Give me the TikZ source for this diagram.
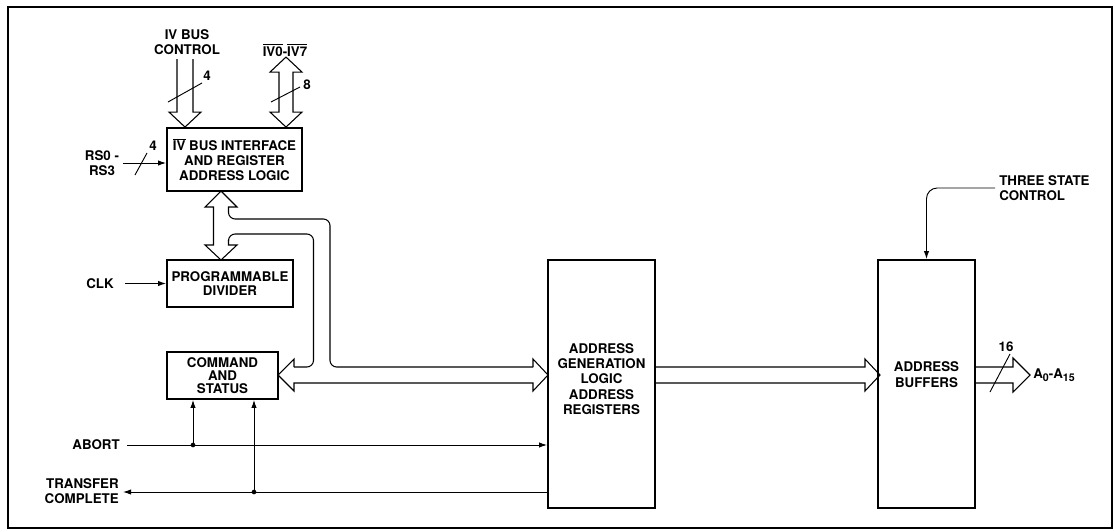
\documentclass[tikz,border=0pt]{standalone}
\usepackage{fontspec}
\setmainfont{TeX Gyre Heros}
\usetikzlibrary{arrows.meta,calc}
\newcommand\ovl[1]{$\overline{\hbox{#1}}$}
\newcommand\lblfont{\fontsize{10pt}{11pt}\selectfont\bfseries}
\newcommand\sbs[1]{\raisebox{-2.2pt}{\fontsize{8pt}{8pt}\selectfont #1}}
\tikzset{
  box/.style={draw,line width=1.4pt,inner sep=0pt,align=center,font=\lblfont},
  lbl/.style={font=\lblfont,inner sep=0pt,align=center},
  bus/.style={line width=0.8pt,line join=miter},
  sig/.style={line width=0.7pt,-{Latex[length=6pt,width=4pt]}},
  dotnode/.style={circle,fill,inner sep=0pt,minimum size=3.5pt},
  slash/.style={line width=0.7pt}
}
\begin{document}
\begin{tikzpicture}[x=0.75pt,y=-0.75pt]
\useasboundingbox (0,0) rectangle (1115,532);
\draw[line width=1.5pt] (8,7) rectangle (1112,528);

% blocks
\node[box,minimum width=101.25pt,minimum height=47.25pt] (ivbox) at (234.5,159.5) {\ovl{IV} BUS INTERFACE\\AND REGISTER\\ADDRESS LOGIC};
\node[box,minimum width=94.5pt,minimum height=35.25pt] (div) at (230,283.5) {PROGRAMMABLE\\DIVIDER};
\node[box,minimum width=83.25pt,minimum height=35.25pt,font=\fontsize{10pt}{9.8pt}\selectfont\bfseries] (cmd) at (222.5,375.5) {COMMAND\\AND\\STATUS};
\node[box,minimum width=80.25pt,minimum height=186pt] (agen) at (601.5,384) {};
\node[lbl,font=\fontsize{10pt}{11.5pt}\selectfont\bfseries] (agent) at (601.5,379) {ADDRESS\\GENERATION\\LOGIC\\ADDRESS\\REGISTERS};
\node[box,minimum width=72.75pt,minimum height=186pt] (buf) at (926.5,384) {};
\node[lbl,font=\fontsize{10pt}{12pt}\selectfont\bfseries] (buft) at (926.5,375) {ADDRESS\\BUFFERS};

% labels
\node[lbl] (ivctl) at (187,42) {IV BUS\\CONTROL};
\node[lbl] (ivd) at (285,50) {\ovl{IV0}-\ovl{IV7}};
\node[lbl] (rs) at (102,163) {RS0 -\\RS3};
\node[lbl,anchor=east] (clk) at (114,284) {CLK};
\node[lbl,anchor=east] (abort) at (120,445) {ABORT};
\node[lbl,anchor=east,align=right] (tc) at (119,491) {TRANSFER\\COMPLETE};
\node[lbl,anchor=west,align=left] (tsc) at (999,188) {THREE STATE\\CONTROL};
\node[lbl,anchor=west] (aout) at (1033,375) {A\sbs{0}-A\sbs{15}};
\node[lbl] (n4a) at (207,76) {4};
\node[lbl] (n8) at (307,85) {8};
\node[lbl] (n4b) at (153,146) {4};
\node[lbl] (n16) at (1006,347) {16};

% IV bus control (in)
\coordinate (c1) at ($(ivbox.north)+(-49.5,0)$);
\draw[bus,shift={(c1)}] (-8,-68) -- (-8,-15) -- (-16,-15) -- (0,0) -- (16,-15) -- (8,-15) -- (8,-68);
\draw[slash] (168,102) -- (202,83);
% IV0-IV7 (bidirectional)
\coordinate (c2) at ($(ivbox.north)+(51.5,0)$);
\draw[bus,shift={(c2)}] (0,0) -- (16,-15) -- (7,-15) -- (7,-55) -- (16,-55) -- (0,-70) -- (-16,-55) -- (-7,-55) -- (-7,-15) -- (-16,-15) -- cycle;
\draw[slash] (271,102) -- (300,87);

% internal bus tree
\draw[bus] (228.5,211) -- (228.5,207) -- (237,207) -- (221,191) -- (205,207) -- (213.5,207) -- (213.5,245) -- (205,245) -- (221,260) -- (237,245) -- (228.5,245) -- (228.5,240);
\draw[bus,rounded corners=5] (228.5,240) -- (228.5,234) -- (313.5,234) -- (313.5,367) -- (294,367);
\draw[bus] (294,367) -- (294,359) -- (278,375) -- (294,391) -- (294,383) -- (533,383) -- (533,391) -- (548,375) -- (533,359) -- (533,367);
\draw[bus,rounded corners=5] (533,367) -- (330,367) -- (330,219) -- (228.5,219) -- (228.5,211);

% address gen -> buffers
\draw[bus] (agen.east |- 0,367) -- (865,367) -- (865,359) -- (880,375) -- (865,391) -- (865,383) -- (agen.east |- 0,383);
% output bus
\draw[bus] (buf.east |- 0,367) -- (1013,367) -- (1013,358) -- (1030,375) -- (1013,392) -- (1013,383) -- (buf.east |- 0,383);
\draw[slash] (990,392) -- (1010,354);

% signals
\coordinate (rsS) at (123,163);
\draw[sig] (rsS) -- (rsS -| ivbox.west);
\draw[slash] (135,175) -- (147,153);
\coordinate (clkS) at (125,283.5);
\draw[sig] (clkS) -- (div.west);
\coordinate (abS) at (127,445);
\draw[sig] (abS) -- (abS -| agen.west);
\coordinate (j1) at (193,445);
\node[dotnode] (d1) at (j1) {};
\draw[sig] (j1) -- (j1 |- cmd.south);
\coordinate (tcE) at (123,492);
\draw[sig] (tcE -| agen.west) -- (tcE);
\coordinate (j2) at (254,492);
\node[dotnode] (d2) at (j2) {};
\draw[sig] (j2) -- (j2 |- cmd.south);
\coordinate (tsS) at (995,188);
\draw[sig,rounded corners=8] (tsS) -| (buf.north);
\end{tikzpicture}
\end{document}
